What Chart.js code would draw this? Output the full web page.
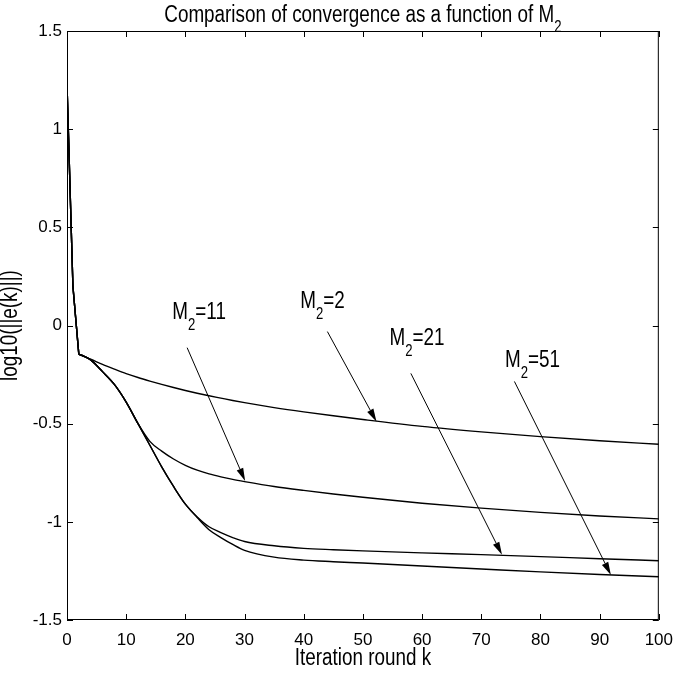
<!DOCTYPE html>
<html>
<head>
<meta charset="utf-8">
<script src="https://cdn.jsdelivr.net/npm/chart.js@4.4.1/dist/chart.umd.min.js"></script>
<style>
  html, body { margin: 0; padding: 0; background: #fff; }
  #wrap { width: 683px; height: 674px; }
</style>
</head>
<body>
<div id="wrap"><canvas id="myChart"></canvas></div>
<script>
const FONT = '"Liberation Sans", Arial, sans-serif';
const SX = 0.82; // horizontal squeeze to get the narrow look of the original lettering

// iteration rounds k where the curves were read
const kValues = [0, 1, 2, 3, 4, 6, 8, 10, 12, 14, 16, 18, 20, 22, 24, 26, 28, 30, 35, 40, 45, 50, 60, 70, 80, 90, 100];
// log10(||e(k)||) for each M2
const errM2_2 = [1.23, 0.2, -0.147, -0.16, -0.172, -0.198, -0.222, -0.245, -0.265, -0.283, -0.3, -0.316, -0.331, -0.345, -0.358, -0.37, -0.382, -0.393, -0.418, -0.44, -0.46, -0.479, -0.514, -0.542, -0.566, -0.587, -0.605];
const errM2_11 = [1.23, 0.2, -0.147, -0.158, -0.175, -0.235, -0.3, -0.39, -0.5, -0.59, -0.64, -0.68, -0.712, -0.737, -0.756, -0.771, -0.784, -0.795, -0.82, -0.84, -0.858, -0.875, -0.905, -0.93, -0.952, -0.97, -0.985];
const errM2_21 = [1.23, 0.2, -0.147, -0.158, -0.175, -0.235, -0.3, -0.39, -0.5, -0.61, -0.72, -0.82, -0.91, -0.975, -1.025, -1.055, -1.08, -1.1, -1.122, -1.135, -1.142, -1.148, -1.158, -1.167, -1.177, -1.188, -1.198];
const errM2_51 = [1.23, 0.2, -0.147, -0.158, -0.175, -0.235, -0.3, -0.39, -0.5, -0.61, -0.72, -0.82, -0.91, -0.978, -1.04, -1.08, -1.115, -1.145, -1.18, -1.195, -1.203, -1.21, -1.225, -1.24, -1.255, -1.268, -1.28];

const xTicks = [0, 10, 20, 30, 40, 50, 60, 70, 80, 90, 100];
const yTicks = [-1.5, -1, -0.5, 0, 0.5, 1, 1.5];

// annotations: M2 value, label spot, arrow start and tip (data coords)
const labelText = ['11', '2', '21', '51'];
const labelPos = [[17.8, 0.073], [39.4, 0.129], [54.5, -0.061], [74.0, -0.169]];
const arrowStart = [[20.3, -0.113], [44.0, -0.031], [58.1, -0.244], [75.6, -0.285]];
const arrowTip = [[30.1, -0.792], [52.3, -0.49], [73.5, -1.168], [91.9, -1.271]];

const KINK = 2; // index of k = 2, where the first steep drop ends

function toPoints(ys) {
    return kValues.map((k, i) => ({ x: k, y: ys[i] }));
}

// first drop drawn straight, the rest smoothed, so the corner at k = 2 stays sharp
function lineSets(label, ys) {
    const pts = toPoints(ys);
    const base = { borderColor: '#000', borderWidth: 1.4, pointRadius: 0, fill: false };
    return [
        Object.assign({ label: label + ' start', data: pts.slice(0, KINK + 1), tension: 0 }, base),
        Object.assign({ label: label, data: pts.slice(KINK), cubicInterpolationMode: 'monotone' }, base)
    ];
}

// "M" + subscript 2 + rest, squeezed; x,y = left end / baseline
function drawM2(ctx, x, y, suffix, big, small) {
    ctx.save();
    ctx.translate(x, y);
    ctx.scale(SX, 1);
    ctx.textAlign = 'left';
    ctx.textBaseline = 'alphabetic';
    ctx.font = big + 'px ' + FONT;
    ctx.fillText('M', 0, 0);
    let w = ctx.measureText('M').width;
    ctx.font = small + 'px ' + FONT;
    ctx.fillText('2', w, 11);
    w += ctx.measureText('2').width;
    ctx.font = big + 'px ' + FONT;
    ctx.fillText(suffix, w, 0);
    ctx.restore();
}

function m2Width(ctx, prefix, suffix, big, small) {
    ctx.font = big + 'px ' + FONT;
    let w = ctx.measureText(prefix + 'M' + suffix).width;
    ctx.font = small + 'px ' + FONT;
    w += ctx.measureText('2').width;
    return w * SX;
}

function drawSqueezed(ctx, text, x, y, size, rot) {
    ctx.save();
    ctx.translate(x, y);
    if (rot) ctx.rotate(rot);
    ctx.scale(SX, 1);
    ctx.font = size + 'px ' + FONT;
    ctx.textAlign = 'center';
    ctx.textBaseline = 'middle';
    ctx.fillText(text, 0, 0);
    ctx.restore();
}

const framePlugin = {
    id: 'frame',
    afterDatasetsDraw(chart) {
        const { ctx, chartArea: a, scales } = chart;
        const xs = scales.x, ys = scales.y;
        ctx.save();
        ctx.strokeStyle = '#000';
        ctx.fillStyle = '#000';
        ctx.lineWidth = 1;
        ctx.strokeRect(a.left + 0.5, a.top + 0.5, a.right - a.left - 1, a.bottom - a.top - 1);
        const t = 6;
        ctx.beginPath();
        xTicks.forEach(v => {
            const p = Math.round(xs.getPixelForValue(v)) + 0.5;
            ctx.moveTo(p, a.bottom); ctx.lineTo(p, a.bottom - t);
            ctx.moveTo(p, a.top); ctx.lineTo(p, a.top + t);
        });
        yTicks.forEach(v => {
            const p = Math.round(ys.getPixelForValue(v)) + 0.5;
            ctx.moveTo(a.left, p); ctx.lineTo(a.left + t, p);
            ctx.moveTo(a.right, p); ctx.lineTo(a.right - t, p);
        });
        ctx.stroke();

        // arrows and their labels
        labelText.forEach((txt, i) => {
            const x0 = xs.getPixelForValue(arrowStart[i][0]);
            const y0 = ys.getPixelForValue(arrowStart[i][1]);
            const x1 = xs.getPixelForValue(arrowTip[i][0]);
            const y1 = ys.getPixelForValue(arrowTip[i][1]);
            const ang = Math.atan2(y1 - y0, x1 - x0);
            const L = 13, W = 3.5;
            const bx = x1 - L * Math.cos(ang), by = y1 - L * Math.sin(ang);
            ctx.beginPath();
            ctx.moveTo(x0, y0); ctx.lineTo(bx, by);
            ctx.stroke();
            ctx.beginPath();
            ctx.moveTo(x1, y1);
            ctx.lineTo(bx + W * Math.sin(ang), by - W * Math.cos(ang));
            ctx.lineTo(bx - W * Math.sin(ang), by + W * Math.cos(ang));
            ctx.closePath();
            ctx.fill();

            const lx = xs.getPixelForValue(labelPos[i][0]);
            const ly = ys.getPixelForValue(labelPos[i][1]) + 8;
            drawM2(ctx, lx, ly, '=' + txt, 23, 16);
        });

        // title
        const main = 'Comparison of convergence as a function of ';
        const tw = m2Width(ctx, main, '', 23, 16);
        const cx = (a.left + a.right) / 2;
        ctx.save();
        ctx.translate(cx - tw / 2, 22);
        ctx.scale(SX, 1);
        ctx.font = '23px ' + FONT;
        ctx.textAlign = 'left';
        ctx.textBaseline = 'alphabetic';
        ctx.fillText(main + 'M', 0, 0);
        const wm = ctx.measureText(main + 'M').width;
        ctx.font = '16px ' + FONT;
        ctx.fillText('2', wm, 10);
        ctx.restore();

        // axis titles
        drawSqueezed(ctx, 'Iteration round k', cx, 659, 23, 0);
        drawSqueezed(ctx, 'log10(||e(k)||)', 11, (a.top + a.bottom) / 2, 23, -Math.PI / 2);
        ctx.restore();
    }
};

const chartCanvas = document.getElementById('myChart').getContext('2d');

new Chart(chartCanvas, {
    type: 'line',
    data: {
        datasets: [].concat(
            lineSets('M2=2', errM2_2),
            lineSets('M2=11', errM2_11),
            lineSets('M2=21', errM2_21),
            lineSets('M2=51', errM2_51)
        )
    },
    options: {
        responsive: true,
        maintainAspectRatio: false,
        animation: false,
        layout: { padding: { top: 31, right: 14, left: 0, bottom: 0 } },
        plugins: {
            legend: { display: false },
            tooltip: { enabled: false }
        },
        scales: {
            x: {
                type: 'linear',
                min: 0,
                max: 100,
                afterBuildTicks: s => { s.ticks = xTicks.map(v => ({ value: v })); },
                afterFit: s => { s.height = 54; },
                grid: { display: false, drawTicks: false },
                border: { display: false },
                ticks: {
                    color: '#000',
                    padding: 10,
                    maxRotation: 0,
                    font: { family: FONT, size: 17 },
                    callback: v => String(v)
                }
            },
            y: {
                type: 'linear',
                min: -1.5,
                max: 1.5,
                afterBuildTicks: s => { s.ticks = yTicks.map(v => ({ value: v })); },
                afterFit: s => { s.width = 67; },
                grid: { display: false, drawTicks: false },
                border: { display: false },
                ticks: {
                    color: '#000',
                    padding: 5,
                    font: { family: FONT, size: 17 },
                    callback: v => String(v)
                }
            }
        }
    },
    plugins: [framePlugin]
});
</script>
</body>
</html>
